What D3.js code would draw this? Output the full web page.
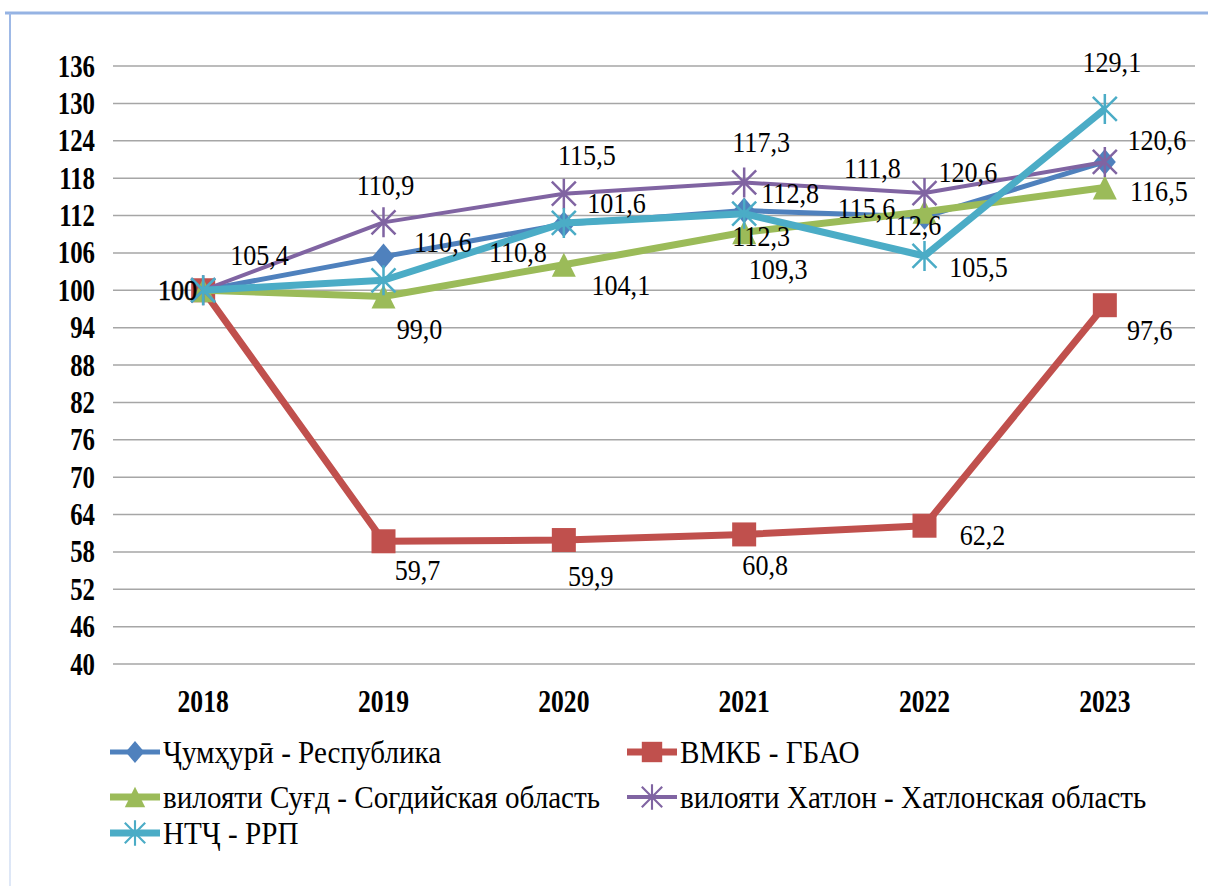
<!DOCTYPE html>
<html><head><meta charset="utf-8">
<script src="https://cdn.jsdelivr.net/npm/d3@7"></script>
<style>html,body{margin:0;padding:0;background:#fff;}svg{display:block;}
text{font-family:"Liberation Serif","Times New Roman",Times,"DejaVu Serif","Noto Serif",serif;}
</style>
</head><body>
<svg id="chart" width="1208" height="886"></svg>
<script>
// ---- data ----
const years = ["2018","2019","2020","2021","2022","2023"];
const yTicks = [40,46,52,58,64,70,76,82,88,94,100,106,112,118,124,130,136];
const seriesNames = [
  "Ҷумҳурӣ - Республика",
  "ВМКБ - ГБАО",
  "вилояти Суғд - Согдийская область",
  "вилояти Хатлон - Хатлонская область",
  "НТҶ - РРП"
];
const republic = [100, 105.4, 110.6, 112.8, 111.8, 120.6];
const gbao     = [100, 59.7, 59.9, 60.8, 62.2, 97.6];
const sughd    = [100, 99.0, 104.1, 109.3, 112.6, 116.5];
const khatlon  = [100, 110.9, 115.5, 117.3, 115.6, 120.6];
const rrp      = [100, 101.6, 110.8, 112.3, 105.5, 129.1];

// ---- styles / label placement (pixels relative to each point) ----
const colors = ["#4F81BD","#C0504D","#9BBB59","#8064A2","#4BACC6"];
const widths = [5, 7, 7, 4, 7];
const markers = ["diamond","square","triangle","star","star"];
const labelOffsets = [
  [null, [-124,8], [-121,28], [46,-8], [-52,-39], [-137,20]],
  [null, [34,39], [27,46], [21,41], [58,19], [45,35]],
  [null, [36,43], [57,30], [34,47], [-12,23], [54,14]],
  [null, [2,-27], [23,-29], [17,-30], [-58,25], [52,-12]],
  [null, [233,-67], [-46,39], [17,32], [54,21], [7,-37]]
];

const data = [republic, gbao, sughd, khatlon, rrp];
const fmt = v => d3.format(".1f")(v).replace(".", ",");

const svg = d3.select("#chart");
const plot = {left:113, right:1195, top:66, bottom:664};

// frame
svg.append("line").attr("x1",5).attr("x2",1208).attr("y1",13).attr("y2",13)
  .attr("stroke","#95b3e3").attr("stroke-width",3);
const grad = svg.append("defs").append("linearGradient").attr("id","lg")
  .attr("x1",0).attr("x2",0).attr("y1",0).attr("y2",1);
grad.append("stop").attr("offset","0%").attr("stop-color","#9db8e6");
grad.append("stop").attr("offset","100%").attr("stop-color","#dfe8f7");
svg.append("rect").attr("x",9).attr("y",13).attr("width",2).attr("height",873).attr("fill","url(#lg)");

const x = d3.scaleBand().domain(years).range([plot.left, plot.right]);
const xc = d => x(d) + x.bandwidth()/2;
const y = d3.scaleLinear().domain([40,136]).range([plot.bottom, plot.top]);

// gridlines
svg.append("g").selectAll("line").data(yTicks).join("line")
  .attr("x1", plot.left).attr("x2", plot.right)
  .attr("y1", d => y(d)).attr("y2", d => y(d))
  .attr("stroke","#a6a6a6").attr("stroke-width",1.5);

// y axis labels
const yAxis = d3.axisLeft(y).tickValues(yTicks).tickSize(0).tickPadding(0);
const yg = svg.append("g").attr("transform",`translate(${plot.left},0)`).call(yAxis);
yg.select(".domain").remove();
yg.selectAll(".tick text").remove();
yg.selectAll(".tick").append("text")
  .attr("text-anchor","end")
  .attr("transform","translate(-18,10) scale(0.8,1)")
  .attr("font-weight","bold").attr("font-size",31).attr("fill","#000")
  .text(d => d);

// x axis labels
const xAxis = d3.axisBottom(x).tickSize(0).tickPadding(0);
const xg = svg.append("g").attr("transform",`translate(0,${plot.bottom})`).call(xAxis);
xg.select(".domain").remove();
xg.selectAll(".tick text").remove();
xg.selectAll(".tick").append("text")
  .attr("text-anchor","middle")
  .attr("transform","translate(0,48) scale(0.8,1)")
  .attr("font-weight","bold").attr("font-size",32).attr("fill","#000")
  .text(d => d);

// marker drawing
function drawMarker(g, type, cx, cy, color, scale) {
  const s = scale || 1;
  if (type === "diamond") {
    const h = 13*s, w = 11*s;
    g.append("path").attr("d",`M${cx},${cy-h}L${cx+w},${cy}L${cx},${cy+h}L${cx-w},${cy}Z`).attr("fill",color);
  } else if (type === "square") {
    const a = 12*s;
    g.append("rect").attr("x",cx-a).attr("y",cy-a).attr("width",2*a).attr("height",2*a).attr("fill",color);
  } else if (type === "triangle") {
    const h = 12*s, w = 12*s;
    g.append("path").attr("d",`M${cx},${cy-h}L${cx+w},${cy+h}L${cx-w},${cy+h}Z`).attr("fill",color);
  } else if (type === "star") {
    const h = 15*s, w = 12*s;
    g.append("path").attr("d",`M${cx-w},${cy-h*0.8}L${cx+w},${cy+h*0.8}M${cx+w},${cy-h*0.8}L${cx-w},${cy+h*0.8}M${cx},${cy-h}L${cx},${cy+h}`)
      .attr("stroke",color).attr("stroke-width",2.5*s).attr("fill","none");
  }
}

const line = d3.line().x((d,i) => xc(years[i])).y(d => y(d));
data.forEach((vals, si) => {
  const g = svg.append("g");
  g.append("path").datum(vals).attr("d", line)
    .attr("fill","none").attr("stroke",colors[si]).attr("stroke-width",widths[si])
    .attr("stroke-linejoin","round");
  vals.forEach((v,i) => drawMarker(g, markers[si], xc(years[i]), y(v), colors[si]));
});

// data labels
const lg = svg.append("g");
data.forEach((vals, si) => {
  vals.forEach((v,i) => {
    const off = labelOffsets[si][i];
    if (!off) return;
    lg.append("text")
      .attr("transform",`translate(${xc(years[i])+off[0]},${y(v)+off[1]}) scale(0.9,1)`)
      .attr("text-anchor","middle")
      .attr("font-size",29).attr("fill","#000")
      .text(fmt(v));
  });
});
// the shared 2018 base value
lg.append("text")
  .attr("transform",`translate(${xc(years[0])-6},${y(republic[0])+10}) scale(0.9,1)`)
  .attr("text-anchor","end")
  .attr("font-size",29).attr("fill","#000")
  .attr("stroke","#000").attr("stroke-width",0.6)
  .text(d3.format("d")(republic[0]));

// legend
const legendPos = [[110,752],[627,752],[110,797],[627,797],[110,833]];
seriesNames.forEach((name, si) => {
  const [lx, ly] = legendPos[si];
  const g = svg.append("g");
  g.append("line").attr("x1",lx).attr("x2",lx+50).attr("y1",ly).attr("y2",ly)
    .attr("stroke",colors[si]).attr("stroke-width",widths[si]);
  drawMarker(g, markers[si], lx+25, ly, colors[si], 0.85);
  g.append("text")
    .attr("transform",`translate(${lx+53},${ly+11}) scale(0.94,1)`)
    .attr("font-size",31).attr("fill","#000")
    .text(name);
});
</script>
</body></html>
